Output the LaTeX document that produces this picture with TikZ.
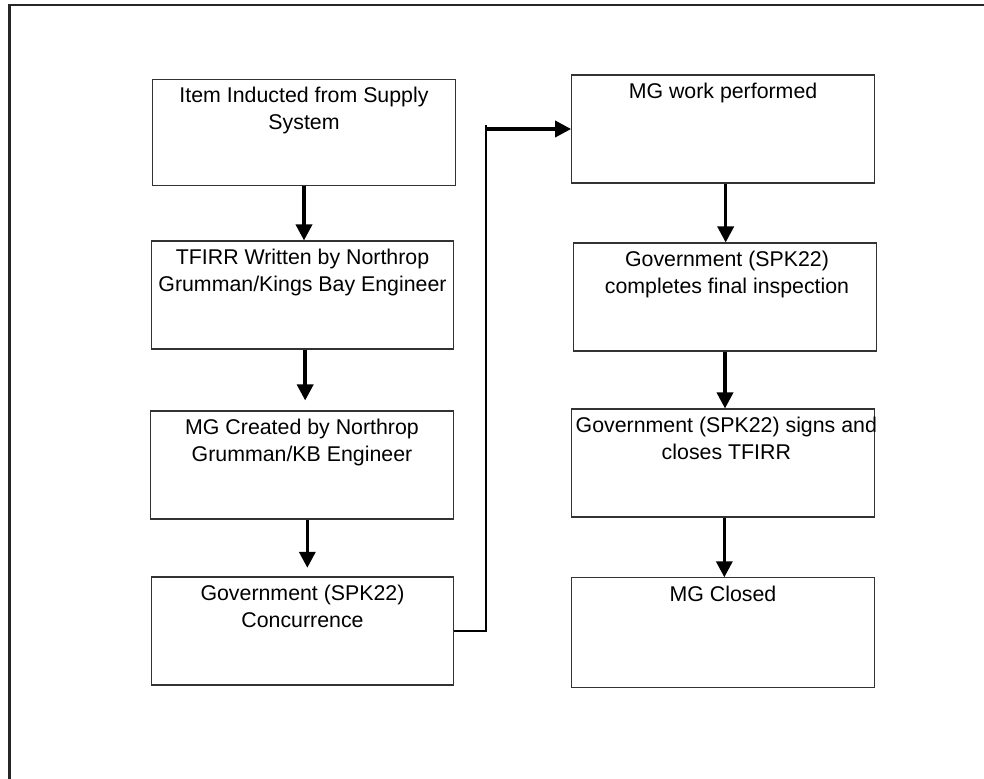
\documentclass[tikz,border=0pt]{standalone}
\usepackage{fontspec}
\setmainfont{Liberation Sans}
\usetikzlibrary{arrows.meta}
\begin{document}
\begin{tikzpicture}[x=0.75pt,y=-0.75pt,
  box/.style={draw=black!80, line width=0.8pt, rectangle, inner sep=0pt},
  txt/.style={anchor=north, align=center, inner sep=0pt, font=\fontsize{16pt}{20.25pt}\selectfont},
  flow/.style={line width=2.6pt, -{Triangle[length=12pt,width=12pt]}},
  thinline/.style={draw=black, line width=0.9pt}]
\useasboundingbox (0,0) rectangle (984,778);
\begin{scope}
\clip (0,0) rectangle (984,778);
\draw[line width=1.6pt, black!85] (9.5,5) rectangle (1000,800);
\end{scope}
% left column
\node[box, minimum width=227pt, minimum height=80pt] (b1) at (304,132.5) {};
\node[box, minimum width=227pt, minimum height=81pt] (b2) at (302.5,295) {};
\node[box, minimum width=227pt, minimum height=81pt] (b3) at (302,465) {};
\node[box, minimum width=226pt, minimum height=81pt] (b4) at (302.5,631) {};
% right column
\node[box, minimum width=227pt, minimum height=81pt] (b5) at (723,129) {};
\node[box, minimum width=227pt, minimum height=81pt] (b6) at (725,297) {};
\node[box, minimum width=227pt, minimum height=81pt] (b7) at (723,463) {};
\node[box, minimum width=227pt, minimum height=82pt] (b8) at (723,632.5) {};
% texts
\node[txt] (t1) at ([yshift=-6pt]b1.north) {Item Inducted from Supply\\System};
\node[txt] (t2) at ([yshift=-6pt]b2.north) {TFIRR Written by Northrop\\Grumman/Kings Bay Engineer};
\node[txt] (t3) at ([yshift=-6pt]b3.north) {MG Created by Northrop\\Grumman/KB Engineer};
\node[txt] (t4) at ([yshift=-6pt]b4.north) {Government (SPK22)\\Concurrence};
\node[txt] (t5) at ([yshift=-6pt]b5.north) {MG work performed};
\node[txt] (t6) at ([yshift=-6pt, xshift=1.5pt]b6.north) {Government (SPK22)\\completes final inspection};
\node[txt] (t7) at ([yshift=-6pt, xshift=2.5pt]b7.north) {Government (SPK22) signs and\\closes TFIRR};
\node[txt] (t8) at ([yshift=-6pt]b8.north) {MG Closed};
% arrows
\draw[flow] (b1.south) -- (b1.south |- b2.north);
\draw[flow, shorten >=7.5pt] ([xshift=2pt]b2.south) -- ([xshift=2pt]b2.south |- b3.north);
\draw[flow, shorten >=6.5pt] ([xshift=4pt]b3.south) -- ([xshift=4pt]b3.south |- b4.north);
\draw[flow] ([xshift=2pt]b5.south) -- ([xshift=2pt]b5.south |- b6.north);
\draw[flow] (b6.south) -- (b6.south |- b7.north);
\draw[flow] ([xshift=1pt]b7.south) -- ([xshift=1pt]b7.south |- b8.north);
% connector
\coordinate (j) at (486,125);
\draw[thinline] (b4.east) -| (j);
\draw[flow] (j |- b5.west) -- (b5.west);
\end{tikzpicture}
\end{document}
